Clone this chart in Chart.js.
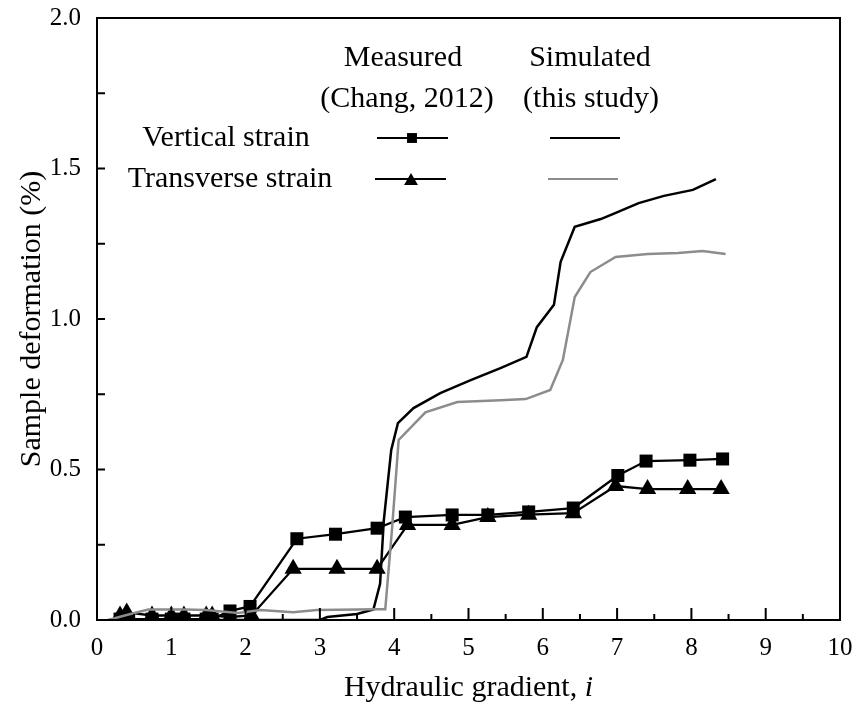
<!DOCTYPE html>
<html>
<head>
<meta charset="utf-8">
<script src="https://cdn.jsdelivr.net/npm/chart.js@4.4.0/dist/chart.umd.min.js"></script>
<style>
  html, body { margin: 0; padding: 0; background: #fff; }
  #chart { display: block; }
</style>
</head>
<body>
<canvas id="chart" width="862" height="713"></canvas>
<script>
// measured (Chang, 2012)
const measVertX = [0.31, 0.40, 0.74, 1.00, 1.17, 1.47, 1.55, 1.79, 2.06, 2.69, 3.21, 3.77, 4.15, 4.78, 5.26, 5.81, 6.41, 7.01, 7.39, 7.98, 8.42];
const measVertY = [0.003, 0.003, 0.003, 0.003, 0.003, 0.003, 0.003, 0.03, 0.045, 0.27, 0.285, 0.305, 0.342, 0.349, 0.349, 0.359, 0.372, 0.48, 0.528, 0.531, 0.535];
const measTransX = [0.31, 0.40, 0.74, 1.00, 1.17, 1.47, 1.55, 1.79, 2.08, 2.64, 3.23, 3.77, 4.18, 4.78, 5.26, 5.81, 6.41, 6.98, 7.41, 7.95, 8.40];
const measTransY = [0.015, 0.025, 0.015, 0.015, 0.015, 0.015, 0.015, 0.01, 0.015, 0.17, 0.17, 0.17, 0.316, 0.316, 0.342, 0.35, 0.355, 0.445, 0.435, 0.435, 0.435];

// simulated (this study)
const simVertX = [0.15, 3.0, 3.1, 3.5, 3.72, 3.81, 3.86, 3.96, 4.05, 4.26, 4.62, 5.03, 5.43, 5.78, 5.92, 6.15, 6.24, 6.43, 6.78, 6.95, 7.29, 7.63, 8.02, 8.33];
const simVertY = [0, 0, 0.01, 0.02, 0.035, 0.12, 0.33, 0.565, 0.654, 0.704, 0.754, 0.797, 0.837, 0.874, 0.973, 1.047, 1.19, 1.306, 1.332, 1.349, 1.385, 1.409, 1.429, 1.465];
const simTransX = [0.15, 0.45, 0.69, 1.19, 1.46, 1.9, 2.2, 2.64, 2.96, 3.77, 3.88, 3.97, 4.06, 4.42, 4.85, 5.43, 5.77, 6.1, 6.27, 6.43, 6.64, 6.98, 7.41, 7.82, 8.15, 8.46];
const simTransY = [0, 0.02, 0.035, 0.035, 0.033, 0.023, 0.033, 0.026, 0.033, 0.036, 0.036, 0.3, 0.598, 0.69, 0.724, 0.73, 0.734, 0.764, 0.864, 1.073, 1.156, 1.206, 1.216, 1.219, 1.226, 1.216];

const xTicks = [0, 1, 2, 3, 4, 5, 6, 7, 8, 9, 10];
const yTicks = [0, 0.5, 1.0, 1.5, 2.0];

const serif = "'Liberation Serif', 'Times New Roman', serif";
Chart.defaults.font.family = serif;
Chart.defaults.color = '#000';

function toPoints(xs, ys){
    return xs.map((x, i) => ({x: x, y: ys[i]}));
}

// frame, inward ticks, x title with italic i, and the table-like legend
const decorPlugin = {
    id: 'decor',
    afterDatasetsDraw(chart){
        const ctx = chart.ctx;
        const area = chart.chartArea;
        const xs = chart.scales.x;
        const ys = chart.scales.y;
        ctx.save();
        ctx.strokeStyle = '#000';
        ctx.lineWidth = 2;
        ctx.strokeRect(area.left, area.top, area.right - area.left, area.bottom - area.top);

        ctx.beginPath();
        for(let v = 0; v <= 10; v += 0.5){
            const px = xs.getPixelForValue(v);
            const len = (v % 1 === 0) ? 12 : 6;
            ctx.moveTo(px, area.bottom);
            ctx.lineTo(px, area.bottom - len);
        }
        for(let v = 0; v <= 2; v += 0.25){
            const py = ys.getPixelForValue(v);
            ctx.moveTo(area.left, py);
            ctx.lineTo(area.left + 8, py);
        }
        ctx.stroke();

        ctx.fillStyle = '#000';
        ctx.textBaseline = 'middle';

        // x axis title
        const plain = 'Hydraulic gradient, ';
        ctx.font = "30px " + serif;
        const wPlain = ctx.measureText(plain).width;
        ctx.font = "italic 30px " + serif;
        const wItalic = ctx.measureText('i').width;
        const startX = (area.left + area.right) / 2 - (wPlain + wItalic) / 2;
        ctx.textAlign = 'left';
        ctx.font = "30px " + serif;
        ctx.fillText(plain, startX, 688);
        ctx.font = "italic 30px " + serif;
        ctx.fillText('i', startX + wPlain, 688);

        // legend
        ctx.font = "30px " + serif;
        ctx.textAlign = 'center';
        ctx.fillText('Measured', 403, 58);
        ctx.fillText('(Chang, 2012)', 407, 99);
        ctx.fillText('Simulated', 590, 58);
        ctx.fillText('(this study)', 591, 99);
        ctx.fillText('Vertical strain', 226, 138);
        ctx.fillText('Transverse strain', 230, 179);

        ctx.lineWidth = 2;
        ctx.beginPath();
        ctx.moveTo(377, 138); ctx.lineTo(448, 138);
        ctx.moveTo(375, 179); ctx.lineTo(446, 179);
        ctx.moveTo(550, 138); ctx.lineTo(620, 138);
        ctx.stroke();
        ctx.strokeStyle = '#8c8c8c';
        ctx.beginPath();
        ctx.moveTo(548, 179); ctx.lineTo(618, 179);
        ctx.stroke();

        ctx.fillStyle = '#000';
        ctx.strokeStyle = '#000';
        Chart.helpers.drawPoint(ctx, {pointStyle: 'rect', radius: 7, borderWidth: 0}, 412, 138);
        Chart.helpers.drawPoint(ctx, {pointStyle: 'triangle', radius: 8, borderWidth: 0}, 411, 181);
        ctx.restore();
    }
};

const markerStyle = {
    borderColor: '#000',
    backgroundColor: '#000',
    pointBackgroundColor: '#000',
    pointBorderColor: '#000',
    borderWidth: 2.3,
    pointBorderWidth: 0,
    tension: 0
};

new Chart(document.getElementById('chart'), {
    type: 'line',
    data: {
        datasets: [
            Object.assign({
                label: 'Vertical strain (measured)',
                data: toPoints(measVertX, measVertY),
                pointStyle: 'rect',
                pointRadius: 9.2,
                order: 2
            }, markerStyle),
            Object.assign({
                label: 'Transverse strain (measured)',
                data: toPoints(measTransX, measTransY),
                pointStyle: 'triangle',
                pointRadius: 10,
                order: 3
            }, markerStyle),
            {
                label: 'Vertical strain (simulated)',
                data: toPoints(simVertX, simVertY),
                borderColor: '#000',
                borderWidth: 2.5,
                pointRadius: 0,
                tension: 0,
                order: 1
            },
            {
                label: 'Transverse strain (simulated)',
                data: toPoints(simTransX, simTransY),
                borderColor: '#8c8c8c',
                borderWidth: 2.5,
                pointRadius: 0,
                tension: 0,
                order: 0
            }
        ]
    },
    options: {
        responsive: false,
        devicePixelRatio: 1,
        animation: false,
        layout: {
            padding: {left: 0, right: 22, top: 18, bottom: 0}
        },
        plugins: {
            legend: {display: false},
            tooltip: {enabled: false}
        },
        scales: {
            x: {
                type: 'linear',
                min: 0,
                max: 10,
                grid: {display: false},
                border: {display: false},
                afterFit: (scale) => { scale.height = 93; },
                afterBuildTicks: (scale) => { scale.ticks = xTicks.map(v => ({value: v})); },
                ticks: {
                    padding: 5,
                    maxRotation: 0,
                    autoSkip: false,
                    font: {size: 25},
                    callback: (v) => String(v)
                },
                title: {display: false}
            },
            y: {
                min: 0,
                max: 2,
                grid: {display: false},
                border: {display: false},
                afterFit: (scale) => {
                    scale.width = 97;
                    scale.paddingTop = 0;
                    scale.paddingBottom = 0;
                },
                afterBuildTicks: (scale) => { scale.ticks = yTicks.map(v => ({value: v})); },
                ticks: {
                    padding: 8,
                    font: {size: 25},
                    callback: (v) => Number(v).toFixed(1)
                },
                title: {
                    display: true,
                    text: 'Sample deformation (%)',
                    font: {size: 30},
                    padding: {top: 14, bottom: 0}
                }
            }
        }
    },
    plugins: [decorPlugin]
});
</script>
</body>
</html>
